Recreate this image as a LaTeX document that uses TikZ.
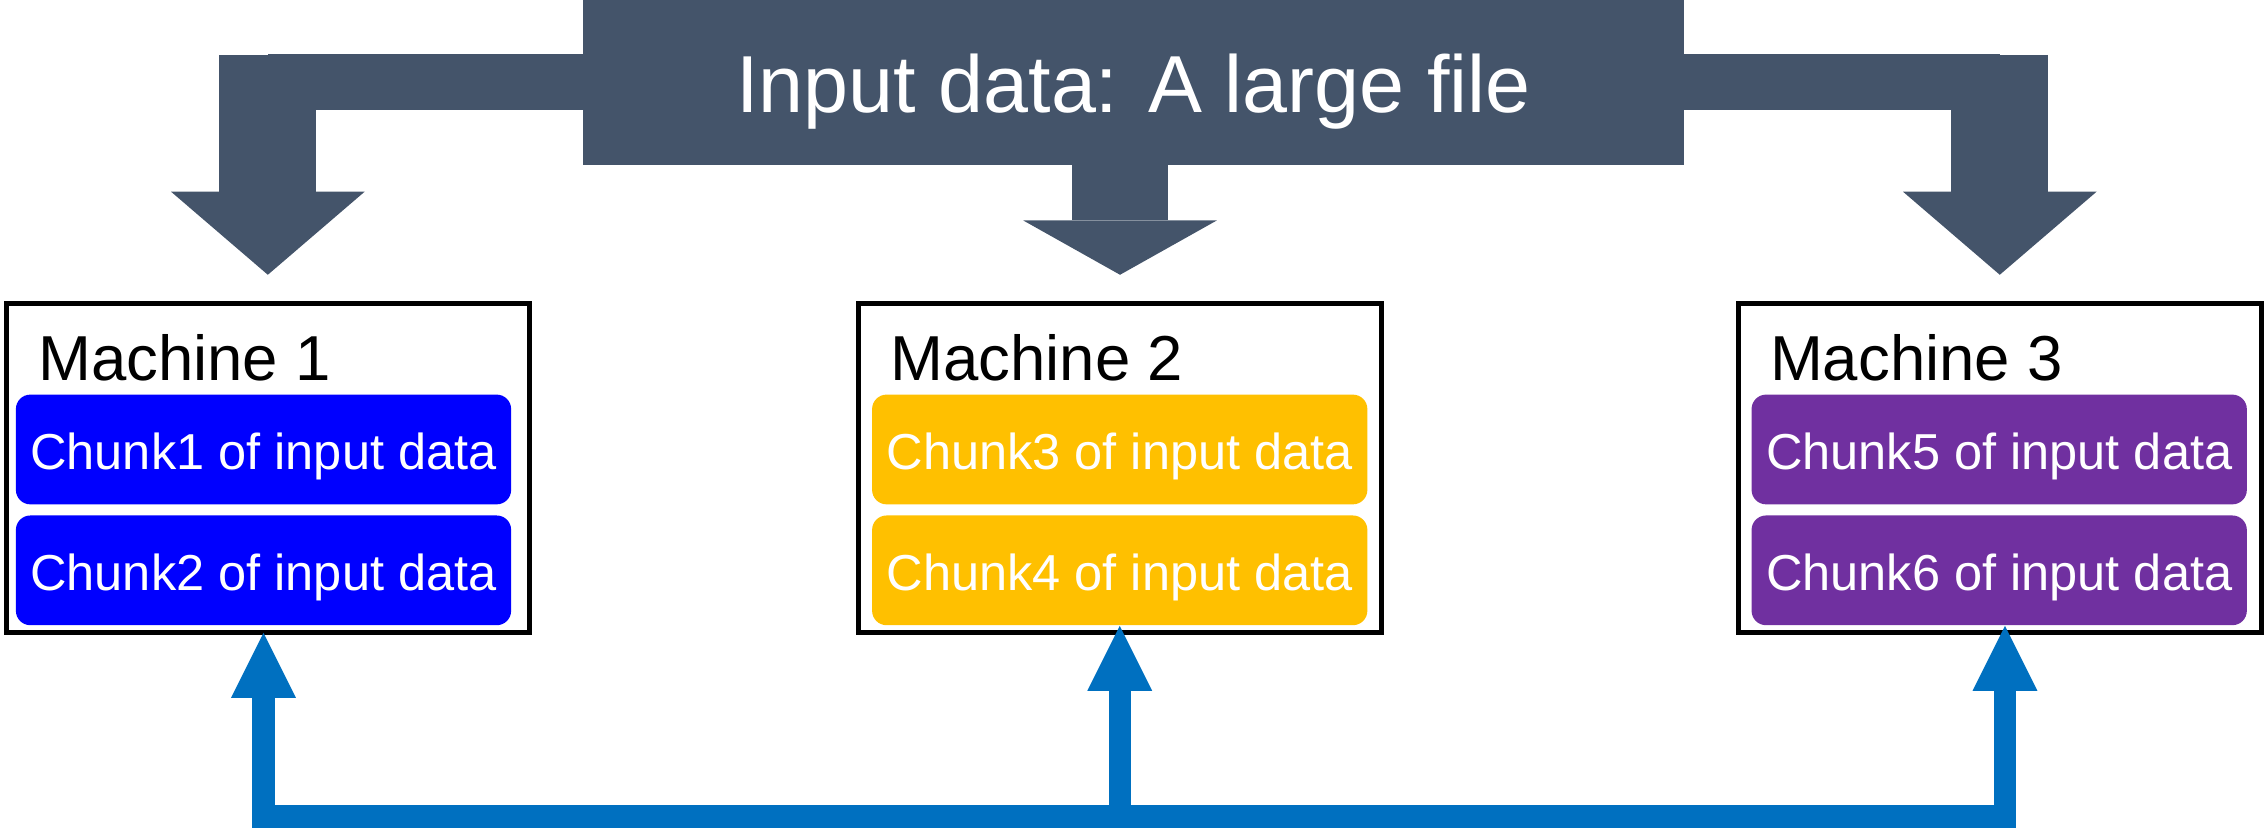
\documentclass[tikz,border=0pt]{standalone}
\usepackage{fontspec}
\setmainfont{Liberation Sans}
\usetikzlibrary{calc,arrows.meta}

\definecolor{slate}{HTML}{44546A}
\definecolor{chunkblue}{HTML}{0000FF}
\definecolor{chunkgold}{HTML}{FFC000}
\definecolor{chunkpurple}{HTML}{7030A0}
\definecolor{busblue}{HTML}{0070C0}

\begin{document}
\begin{tikzpicture}[x=0.5pt,y=-0.5pt,
  machine/.style={draw=black,line width=1.7pt,minimum width=181pt,minimum height=114pt,inner sep=0pt,outer sep=0pt},
  mlabel/.style={anchor=base west,inner sep=0pt,font=\fontsize{22}{26}\selectfont},
  chunk/.style={rounded corners=5pt,minimum width=171.5pt,minimum height=38pt,inner sep=0pt,text=white,text height=13.8pt,text depth=0pt,font=\fontsize{17.5}{21}\selectfont},
  fat/.style={draw=slate,line width=33.5pt},
  feed/.style={draw=busblue,line width=7.75pt,-{Triangle[length=22.5pt,width=22.5pt,line width=0pt]}},
  bus/.style={draw=busblue,line width=7.75pt,line cap=square}]
%
\useasboundingbox (0,0) rectangle (1568,572.8);
%
% input file on top
\node[fill=slate,minimum width=381pt,minimum height=57pt,inner sep=0pt,outer sep=0pt,text=white,text height=20.7pt,text depth=0pt,font=\fontsize{28}{34}\selectfont] (input) at (785,57) {Input data: A large file};
%
% machines
\node[machine] (m1) at (185.5,324.3) {};
\node[machine] (m2) at (775.7,324.3) {};
\node[machine] (m3) at (1385,324.3) {};
\node[mlabel] (l1) at ($(m1.north west)+(21.5,53.2)$) {Machine 1};
\node[mlabel] (l2) at ($(m2.north west)+(21.5,53.2)$) {Machine 2};
\node[mlabel] (l3) at ($(m3.north west)+(21.5,53.2)$) {Machine 3};
%
% chunks of the file
\node[chunk,fill=chunkblue] (c11) at (182.5,311.3) {Chunk1 of input data};
\node[chunk,fill=chunkblue] (c12) at (182.5,395) {Chunk2 of input data};
\node[chunk,fill=chunkgold] (c21) at (775.5,311.3) {Chunk3 of input data};
\node[chunk,fill=chunkgold] (c22) at (775.5,395) {Chunk4 of input data};
\node[chunk,fill=chunkpurple] (c31) at (1384.6,311.3) {Chunk5 of input data};
\node[chunk,fill=chunkpurple] (c32) at (1384.6,395) {Chunk6 of input data};
%
% split arrows from the file to the machines
\coordinate (t1) at ($(m1.north)+(0,-20)$);
\coordinate (t2) at ($(m2.north)+(0,-20)$);
\coordinate (t3) at ($(m3.north)+(0,-20)$);
\draw[slate,line width=19.5pt](input.west)--(input.west -| t1);
\draw[slate,line width=19.5pt](input.east)--(input.east -| t3);
\draw[fat,-{Triangle[length=28.75pt,width=67pt,line width=0pt]}]($(input.north -| t1)+(0,38)$)--(t1);
\draw[fat,-{Triangle[length=18.8pt,width=67pt,line width=0pt]}](input.south -| t2)--(t2);
\draw[fat,-{Triangle[length=28.75pt,width=67pt,line width=0pt]}]($(input.north -| t3)+(0,38)$)--(t3);
%
% bus below the machines
\coordinate (j1) at ($(c12.south)+(0,132)$);
\coordinate (j2) at ($(c22.south)+(0,132)$);
\coordinate (j3) at ($(c32.south)+(4,132)$);
\draw[bus](j1)--(j3);
\draw[feed]($(j1)+(0,8)$)--(c12.south |- m1.south);
\draw[feed]($(j2)+(0,8)$)--(c22.south);
\draw[feed]($(j3)+(0,8)$)--($(c32.south)+(4,0)$);
%
\end{tikzpicture}
\end{document}
